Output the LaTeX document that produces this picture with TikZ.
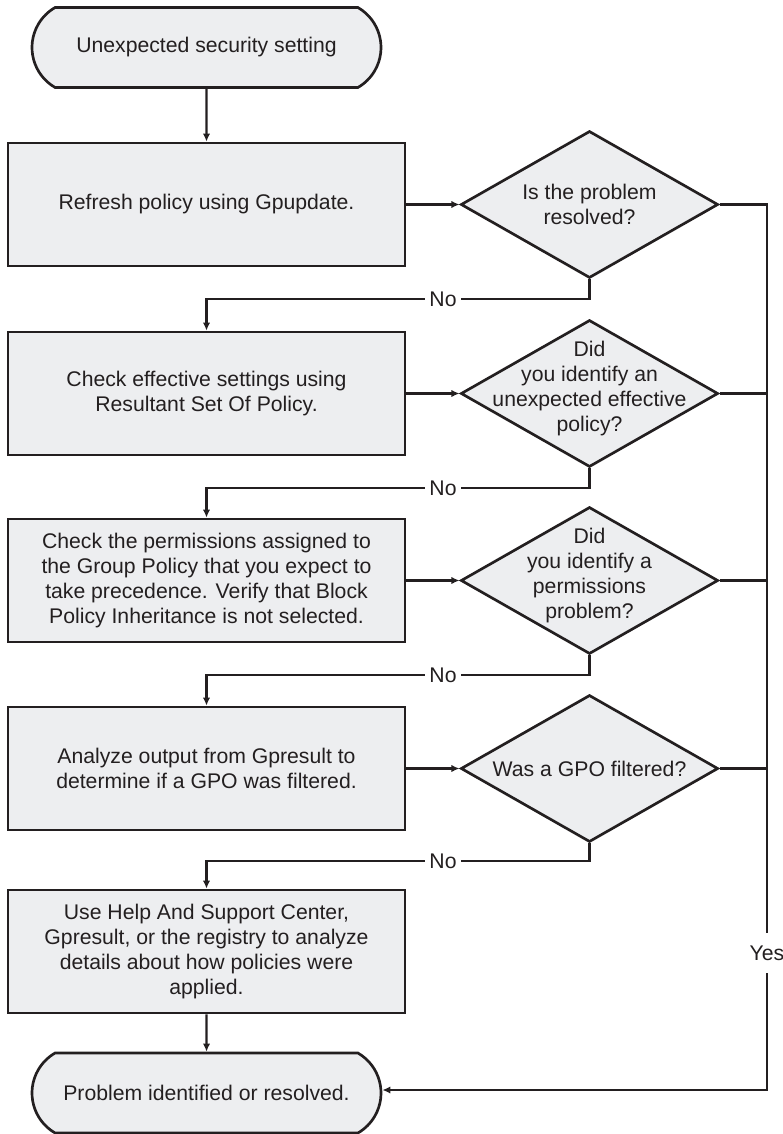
\documentclass[tikz,border=0pt]{standalone}
\usepackage{fontspec}
\setmainfont{Liberation Sans}
\usetikzlibrary{shapes.geometric,shapes.misc,arrows.meta}
\definecolor{boxfill}{RGB}{237,238,240}
\definecolor{ink}{RGB}{35,31,32}
\begin{document}
\begin{tikzpicture}[x=0.75pt,y=-0.75pt,
  every node/.style={font=\fontsize{15.9}{18.75}\selectfont, text=ink},
  term/.style={rounded rectangle, rounded rectangle arc length=120, draw=ink, fill=boxfill,
    line width=2pt, minimum width=261.75pt, minimum height=60pt, inner sep=0pt},
  procbox/.style={rectangle, draw=ink, fill=boxfill, line width=2pt,
    minimum width=297.75pt, minimum height=92.25pt, align=center, inner sep=0pt},
  decision/.style={diamond, draw=ink, fill=boxfill, line width=2pt,
    minimum width=193pt, minimum height=110.25pt, inner sep=0pt},
  qtext/.style={align=center, inner sep=0pt},
  flow/.style={draw=ink, line width=1.6pt, -{Latex[length=6pt,width=5.5pt]}},
  wire/.style={draw=ink, line width=1.6pt},
  tag/.style={fill=white, inner xsep=3pt, inner ysep=2pt}
]
\useasboundingbox (0,0) rectangle (782,1134);

% start and end terminals
\node[term] (t1) at (206.5,47.5) {Unexpected security setting};
\node[term] (t2) at (206.5,1093) {Problem identified or resolved.};

% process steps
\node[procbox] (b1) at (206.5,204.5) {Refresh policy using Gpupdate.};
\node[procbox] (b2) at (206.5,393.5) {Check effective settings using\\Resultant Set Of Policy.};
\node[procbox] (b3) at (206.5,580.5) {Check the permissions assigned to\\the Group Policy that you expect to\\take precedence. Verify that Block\\Policy Inheritance is not selected.};
\node[procbox] (b4) at (206.5,768.5) {Analyze output from Gpresult to\\determine if a GPO was filtered.};
\node[procbox] (b5) at (206.5,951.5) {Use Help And Support Center,\\Gpresult, or the registry to analyze\\details about how policies were\\applied.};

% decisions
\node[decision] (d1) at (589.5,204.5) {};
\node[decision] (d2) at (589.5,393.5) {};
\node[decision] (d3) at (589.5,580.5) {};
\node[decision] (d4) at (589.5,768.5) {};
\node[qtext] (q1) at (d1.center) {Is the problem\\resolved?};
\node[qtext, yshift=4pt] (q2) at (d2.center) {Did\\you identify an\\unexpected effective\\policy?};
\node[qtext, yshift=4pt] (q3) at (d3.center) {Did\\you identify a\\permissions\\problem?};
\node[qtext] (q4) at (d4.center) {Was a GPO filtered?};

% main flow
\draw[flow] (t1) -- (b1);
\draw[flow] (b1) -- (d1);
\draw[flow] (b2) -- (d2);
\draw[flow] (b3) -- (d3);
\draw[flow] (b4) -- (d4);
\draw[flow] (b5) -- (t2);

% "No" branches
\coordinate (n1) at (443,299);
\coordinate (n2) at (443,488);
\coordinate (n3) at (443,675);
\coordinate (n4) at (443,861);
\draw[flow] (d1.south) -- (d1.south |- n1) -- (n1) node[tag] (no1) {No} -- (b1.south |- n1) -- (b2.north);
\draw[flow] (d2.south) -- (d2.south |- n2) -- (n2) node[tag] (no2) {No} -- (b2.south |- n2) -- (b3.north);
\draw[flow] (d3.south) -- (d3.south |- n3) -- (n3) node[tag] (no3) {No} -- (b3.south |- n3) -- (b4.north);
\draw[flow] (d4.south) -- (d4.south |- n4) -- (n4) node[tag] (no4) {No} -- (b4.south |- n4) -- (b5.north);

% "Yes" bus on the right
\coordinate (rtop) at (767,204.5);
\coordinate (ymark) at (767,953);
\coordinate (rbot) at (767,1090);
\draw[wire] (d2.east) -- (d2.east -| rtop);
\draw[wire] (d3.east) -- (d3.east -| rtop);
\draw[wire] (d4.east) -- (d4.east -| rtop);
\draw[flow] (d1.east) -- (rtop) -- (ymark) node[tag, inner xsep=1pt, minimum height=30pt] (yes) {Yes} -- (rbot) -- (t2.east |- rbot);
\end{tikzpicture}
\end{document}
